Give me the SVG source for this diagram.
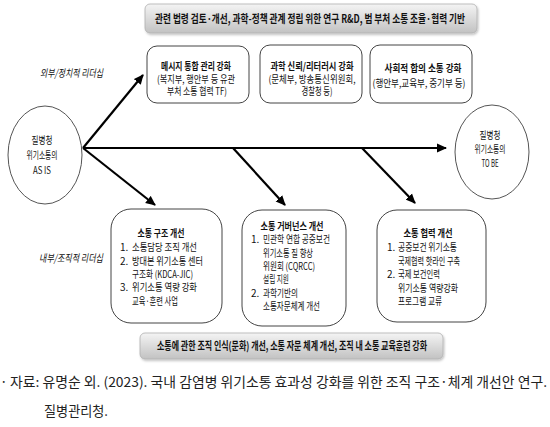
<svg xmlns="http://www.w3.org/2000/svg" width="550" height="427" viewBox="0 0 550 427">
<defs>
<linearGradient id="bar" x1="0" y1="0" x2="0" y2="1">
<stop offset="0" stop-color="#f4f4f4"/>
<stop offset="1" stop-color="#c2c2c2"/>
</linearGradient>
<filter id="sh" x="-5%" y="-20%" width="110%" height="150%">
<feDropShadow dx="1" dy="1.5" stdDeviation="1" flood-color="#000" flood-opacity="0.25"/>
</filter>
<marker id="ah" markerUnits="userSpaceOnUse" markerWidth="10" markerHeight="10" viewBox="0 0 10 10" refX="9" refY="5" orient="auto">
<path d="M0,0.5 L10,5 L0,9.5 Z" fill="#000"/>
</marker>
</defs>
<style>
text{font-family:"Noto Sans CJK KR","Noto Sans",sans-serif;fill:#111;}
.t{font-size:10px;}
.bt{font-size:11px;}
.b{font-weight:bold;}
.c{text-anchor:middle;}
.box{fill:#fff;stroke:#444;stroke-width:1;}
.ell{fill:#fff;stroke:#555;stroke-width:1;}
.bar{fill:url(#bar);stroke:#b0b0b0;stroke-width:0.8;}
.ln{stroke:#000;stroke-width:2.2;fill:none;}
.lbl{font-size:10.5px;font-style:italic;}
.fn{font-size:13.5px;fill:#222;}
</style>
<rect width="550" height="427" fill="#fff"/>

<g id="top-bar">
<rect class="bar" x="145" y="4" width="332" height="29" rx="5" filter="url(#sh)"/>
<text class="bt b c" x="310" y="22.5" textLength="310" lengthAdjust="spacingAndGlyphs">관련 법령 검토·개선, 과학-정책 관계 정립 위한 연구 R&amp;D, 범 부처 소통 조율·협력 기반</text>
</g>

<g id="label-external">
<text class="lbl" x="40" y="77" textLength="63" lengthAdjust="spacingAndGlyphs">외부/정치적 리더십</text>
</g>
<g id="label-internal">
<text class="lbl" x="39" y="262" textLength="64" lengthAdjust="spacingAndGlyphs">내부/조직적 리더십</text>
</g>

<g id="connectors">
<line class="ln" x1="83" y1="148" x2="446" y2="148" marker-end="url(#ah)"/>
<line class="ln" x1="83" y1="148" x2="143" y2="75" marker-end="url(#ah)"/>
<line class="ln" x1="83" y1="148" x2="155" y2="205" marker-end="url(#ah)"/>
<line class="ln" x1="233" y1="148" x2="285" y2="205" marker-end="url(#ah)"/>
<line class="ln" x1="362" y1="148" x2="415" y2="203" marker-end="url(#ah)"/>
</g>

<g id="as-is">
<ellipse class="ell" cx="45" cy="155" rx="37" ry="49"/>
<text class="t c" x="42" y="144" textLength="21" lengthAdjust="spacingAndGlyphs">질병청</text>
<text class="t c" x="42" y="159" textLength="31" lengthAdjust="spacingAndGlyphs">위기소통의</text>
<text class="t c" x="42" y="174" textLength="18" lengthAdjust="spacingAndGlyphs">AS IS</text>
</g>

<g id="to-be">
<ellipse class="ell" cx="492" cy="152" rx="37" ry="47"/>
<text class="t c" x="490" y="139" textLength="21" lengthAdjust="spacingAndGlyphs">질병청</text>
<text class="t c" x="490" y="153" textLength="31" lengthAdjust="spacingAndGlyphs">위기소통의</text>
<text class="t c" x="490" y="167" textLength="17" lengthAdjust="spacingAndGlyphs">TO BE</text>
</g>

<g id="box-message">
<rect class="box" x="147" y="46" width="102" height="57" rx="10"/>
<text class="t b c" x="196" y="70" textLength="70" lengthAdjust="spacingAndGlyphs">메시지 통합 관리 강화</text>
<text class="t c" x="196" y="82.5" textLength="78" lengthAdjust="spacingAndGlyphs">(복지부, 행안부 등 유관</text>
<text class="t c" x="197" y="95" textLength="60" lengthAdjust="spacingAndGlyphs">부처 소통 협력 TF)</text>
</g>

<g id="box-science">
<rect class="box" x="260" y="45" width="102" height="58" rx="10"/>
<text class="t b c" x="312" y="70" textLength="83" lengthAdjust="spacingAndGlyphs">과학 신뢰/리터러시 강화</text>
<text class="t c" x="312" y="82.5" textLength="87" lengthAdjust="spacingAndGlyphs">(문체부, 방송통신위원회,</text>
<text class="t c" x="317" y="95" textLength="31" lengthAdjust="spacingAndGlyphs">경찰청 등)</text>
</g>

<g id="box-social">
<rect class="box" x="370" y="45" width="102" height="58" rx="10"/>
<text class="t b c" x="423" y="72" textLength="77" lengthAdjust="spacingAndGlyphs">사회적 합의 소통 강화</text>
<text class="t c" x="419" y="87" textLength="93" lengthAdjust="spacingAndGlyphs">(행안부,교육부, 중기부 등)</text>
</g>

<g id="box-structure">
<rect class="box" x="111" y="209" width="111" height="114" rx="20"/>
<text class="t b c" x="161" y="237" textLength="47" lengthAdjust="spacingAndGlyphs">소통 구조 개선</text>
<text class="t" x="120" y="251">1.</text>
<text class="t" x="132" y="251" textLength="65" lengthAdjust="spacingAndGlyphs">소통담당 조직 개선</text>
<text class="t" x="120" y="265">2.</text>
<text class="t" x="132" y="265" textLength="71" lengthAdjust="spacingAndGlyphs">방대본 위기소통 센터</text>
<text class="t" x="132" y="278" textLength="61" lengthAdjust="spacingAndGlyphs">구조화 (KDCA-JIC)</text>
<text class="t" x="120" y="291">3.</text>
<text class="t" x="132" y="291" textLength="65" lengthAdjust="spacingAndGlyphs">위기소통 역량 강화</text>
<text class="t" x="132" y="305" textLength="46" lengthAdjust="spacingAndGlyphs">교육·훈련 사업</text>
</g>

<g id="box-governance">
<rect class="box" x="242" y="210" width="104" height="116" rx="20"/>
<text class="t b c" x="292" y="230" textLength="63" lengthAdjust="spacingAndGlyphs">소통 거버넌스 개선</text>
<text class="t" x="251" y="243">1.</text>
<text class="t" x="263" y="243" textLength="67" lengthAdjust="spacingAndGlyphs">민관학 연합 공중보건</text>
<text class="t" x="263" y="256.5" textLength="50" lengthAdjust="spacingAndGlyphs">위기소통 질 향상</text>
<text class="t" x="263" y="270" textLength="52" lengthAdjust="spacingAndGlyphs">위원회 (CQRCC)</text>
<text class="t" x="263" y="283" textLength="26" lengthAdjust="spacingAndGlyphs">설립 지원</text>
<text class="t" x="251" y="296.5">2.</text>
<text class="t" x="263" y="296.5" textLength="35" lengthAdjust="spacingAndGlyphs">과학기반의</text>
<text class="t" x="263" y="310" textLength="57" lengthAdjust="spacingAndGlyphs">소통자문체계 개선</text>
</g>

<g id="box-cooperation">
<rect class="box" x="377" y="210" width="109" height="112" rx="20"/>
<text class="t b c" x="428" y="237" textLength="49" lengthAdjust="spacingAndGlyphs">소통 협력 개선</text>
<text class="t" x="387" y="251">1.</text>
<text class="t" x="398" y="251" textLength="59" lengthAdjust="spacingAndGlyphs">공중보건 위기소통</text>
<text class="t" x="398" y="264.5" textLength="62" lengthAdjust="spacingAndGlyphs">국제협력 핫라인 구축</text>
<text class="t" x="387" y="278">2.</text>
<text class="t" x="398" y="278" textLength="42" lengthAdjust="spacingAndGlyphs">국제 보건인력</text>
<text class="t" x="398" y="291.5" textLength="60" lengthAdjust="spacingAndGlyphs">위기소통 역량강화</text>
<text class="t" x="398" y="305" textLength="44" lengthAdjust="spacingAndGlyphs">프로그램 교류</text>
</g>

<g id="bottom-bar">
<rect class="bar" x="140" y="333" width="303" height="26" rx="5" filter="url(#sh)"/>
<text class="bt b c" x="292" y="350" textLength="270" lengthAdjust="spacingAndGlyphs">소통에 관한 조직 인식(문화) 개선, 소통 자문 체계 개선, 조직 내 소통 교육훈련 강화</text>
</g>

<g id="footnote">
<text class="fn" x="0" y="387">·</text>
<text class="fn" x="10" y="387" textLength="537" lengthAdjust="spacingAndGlyphs">자료: 유명순 외. (2023). 국내 감염병 위기소통 효과성 강화를 위한 조직 구조·체계 개선안 연구.</text>
<text class="fn" x="44" y="416" textLength="64" lengthAdjust="spacingAndGlyphs">질병관리청.</text>
</g>
</svg>
